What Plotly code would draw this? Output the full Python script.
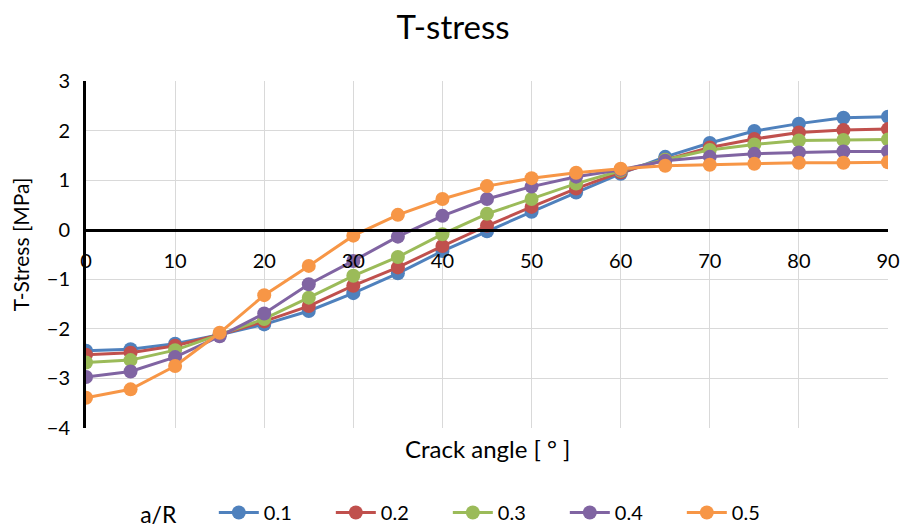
import plotly.graph_objects as go

angles = [0, 5, 10, 15, 20, 25, 30, 35, 40, 45, 50, 55, 60, 65, 70, 75, 80, 85, 90]
series_names = ["0.1", "0.2", "0.3", "0.4", "0.5"]
s01 = [-2.44, -2.41, -2.30, -2.12, -1.91, -1.64, -1.28, -0.88, -0.43, -0.03, 0.36, 0.75, 1.13, 1.47, 1.75, 1.99, 2.14, 2.26, 2.28]
s02 = [-2.52, -2.48, -2.34, -2.12, -1.85, -1.54, -1.13, -0.76, -0.33, 0.08, 0.46, 0.83, 1.16, 1.41, 1.66, 1.83, 1.96, 2.01, 2.03]
s03 = [-2.68, -2.63, -2.43, -2.12, -1.80, -1.37, -0.93, -0.55, -0.09, 0.32, 0.62, 0.93, 1.19, 1.41, 1.61, 1.72, 1.80, 1.81, 1.82]
s04 = [-2.97, -2.86, -2.57, -2.15, -1.69, -1.10, -0.63, -0.14, 0.28, 0.62, 0.87, 1.07, 1.21, 1.39, 1.47, 1.53, 1.56, 1.58, 1.58]
s05 = [-3.39, -3.22, -2.75, -2.08, -1.32, -0.73, -0.12, 0.30, 0.62, 0.88, 1.04, 1.15, 1.23, 1.29, 1.31, 1.33, 1.35, 1.35, 1.36]
colors = ["#4F81BD", "#C0504D", "#9BBB59", "#8064A2", "#F79646"]

FONT = "Lato"
fig = go.Figure()
for name, ys, c in zip(series_names, [s01, s02, s03, s04, s05], colors):
    fig.add_trace(go.Scatter(x=angles, y=ys, name=name, mode="lines+markers",
                             line=dict(color=c, width=3),
                             marker=dict(color=c, size=14)))

fig.update_layout(
    width=906, height=528,
    margin=dict(l=86, r=18, t=81, b=100),
    paper_bgcolor="white", plot_bgcolor="white",
    font=dict(family=FONT, size=20, color="#000000"),
    title=dict(text="T-stress", x=0.5, xanchor="center", y=1 - 27 / 528, yanchor="middle",
               font=dict(size=33, family=FONT)),
    xaxis=dict(range=[0, 90], tickvals=[0, 10, 20, 30, 40, 50, 60, 70, 80, 90],
               showgrid=True, gridcolor="#D9D9D9", gridwidth=1,
               showline=True, linecolor="black", linewidth=3,
               anchor="free", position=4 / 7, automargin=False,
               ticks="", ticklabelstandoff=12, zeroline=False,
               tickfont=dict(size=20)),
    yaxis=dict(range=[-4, 3], dtick=1, showgrid=True, gridcolor="#D9D9D9", gridwidth=1,
               showline=True, linecolor="black", linewidth=3, automargin=False,
               zeroline=False, ticks="", ticklabelstandoff=9,
               tickfont=dict(size=20)),
    legend=dict(orientation="h", x=0.065, xanchor="left", xref="paper",
                y=1 - 513 / 528, yanchor="middle", yref="container",
                title=dict(text="a/R     ", font=dict(size=23)),
                font=dict(size=20), entrywidth=62, itemwidth=40),
    showlegend=True,
)
fig.add_annotation(text="Crack angle [ ° ]", xref="paper", yref="paper", x=0.5, y=-0.058,
                   showarrow=False, font=dict(size=24), xanchor="center", yanchor="middle")
fig.add_annotation(text="T-Stress [MPa]", xref="paper", yref="paper", x=-0.082, y=0.53,
                   showarrow=False, font=dict(size=21), textangle=-90,
                   xanchor="center", yanchor="middle")
fig.write_html("out.html", config={"displayModeBar": False},
               post_script="document.body.style.margin='0';")
